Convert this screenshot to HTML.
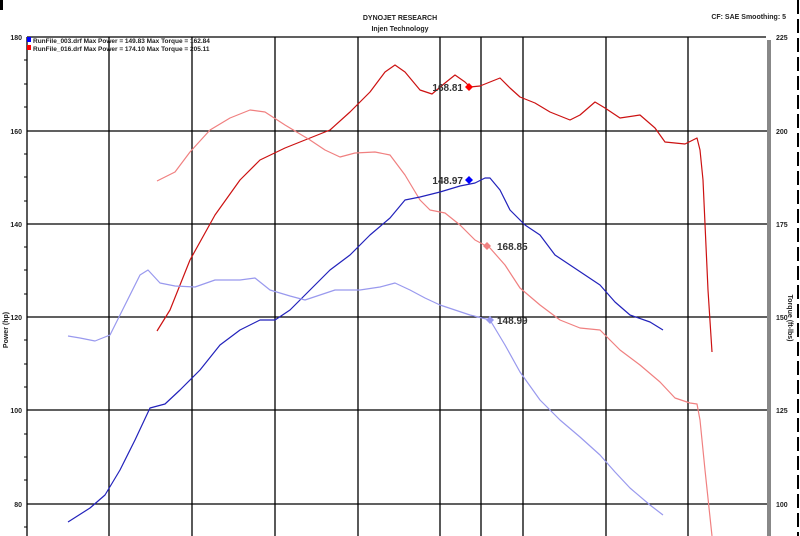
<!DOCTYPE html>
<html><head><style>
body{margin:0;background:#fff;}
svg{display:block;font-family:"Liberation Sans",sans-serif;}
</style></head><body>
<svg width="800" height="536" viewBox="0 0 800 536" xmlns="http://www.w3.org/2000/svg">
<rect x="0" y="0" width="800" height="536" fill="#fff"/>
<rect x="0" y="0" width="3" height="10" fill="#000"/>
<line x1="798" y1="0" x2="798" y2="536" stroke="#000" stroke-width="2" stroke-dasharray="14,5"/>
<text x="400" y="20" font-size="7" font-weight="bold" text-anchor="middle" fill="#222">DYNOJET RESEARCH</text>
<text x="400" y="31" font-size="7" font-weight="bold" text-anchor="middle" fill="#222">Injen Technology</text>
<text x="786" y="19" font-size="7" font-weight="bold" text-anchor="end" fill="#222">CF: SAE  Smoothing: 5</text>
<!-- grid -->
<g stroke="#000" stroke-width="1.3">
<line x1="27" y1="131" x2="769" y2="131"/>
<line x1="27" y1="224" x2="769" y2="224"/>
<line x1="27" y1="317" x2="769" y2="317"/>
<line x1="27" y1="410" x2="769" y2="410"/>
<line x1="27" y1="504" x2="769" y2="504"/>
<line x1="27" y1="37" x2="766" y2="37"/>
<line x1="109" y1="37" x2="109" y2="536"/>
<line x1="192" y1="37" x2="192" y2="536"/>
<line x1="275" y1="37" x2="275" y2="536"/>
<line x1="358" y1="37" x2="358" y2="536"/>
<line x1="440" y1="37" x2="440" y2="536"/>
<line x1="481" y1="37" x2="481" y2="536"/>
<line x1="523" y1="37" x2="523" y2="536"/>
<line x1="606" y1="37" x2="606" y2="536"/>
<line x1="688" y1="37" x2="688" y2="536"/>
<line x1="27" y1="37" x2="27" y2="536"/>
</g>
<rect x="767" y="40" width="4" height="496" fill="#888"/>
<g stroke="#000" stroke-width="1">
<line x1="24" y1="60" x2="27" y2="60"/><line x1="24" y1="84" x2="27" y2="84"/><line x1="24" y1="107" x2="27" y2="107"/>
<line x1="24" y1="154" x2="27" y2="154"/><line x1="24" y1="177" x2="27" y2="177"/><line x1="24" y1="201" x2="27" y2="201"/>
<line x1="24" y1="247" x2="27" y2="247"/><line x1="24" y1="270" x2="27" y2="270"/><line x1="24" y1="294" x2="27" y2="294"/>
<line x1="24" y1="340" x2="27" y2="340"/><line x1="24" y1="364" x2="27" y2="364"/><line x1="24" y1="387" x2="27" y2="387"/>
<line x1="24" y1="434" x2="27" y2="434"/><line x1="24" y1="457" x2="27" y2="457"/><line x1="24" y1="480" x2="27" y2="480"/>
<line x1="24" y1="527" x2="27" y2="527"/>
</g>
<g font-size="7" font-weight="bold" fill="#222">
<text x="22" y="40" text-anchor="end">180</text>
<text x="22" y="134" text-anchor="end">160</text>
<text x="22" y="227" text-anchor="end">140</text>
<text x="22" y="320" text-anchor="end">120</text>
<text x="22" y="413" text-anchor="end">100</text>
<text x="22" y="507" text-anchor="end">80</text>
<text x="776" y="40">225</text>
<text x="776" y="134">200</text>
<text x="776" y="227">175</text>
<text x="776" y="320">150</text>
<text x="776" y="413">125</text>
<text x="776" y="507">100</text>
<text transform="translate(8,330) rotate(-90)" text-anchor="middle">Power (hp)</text>
<text transform="translate(788,318) rotate(90)" text-anchor="middle">Torque (ft-lbs)</text>
</g>
<rect x="27" y="37" width="4" height="5" fill="#00f"/>
<rect x="27" y="45" width="4" height="5" fill="#f00"/>
<g font-size="6.5" font-weight="bold" fill="#222">
<text x="33" y="43">RunFile_003.drf Max Power = 149.83    Max Torque = 162.84</text>
<text x="33" y="51">RunFile_016.drf Max Power = 174.10    Max Torque = 205.11</text>
</g>
<g fill="none" stroke-width="1.2" stroke-linejoin="round">
<polyline stroke="#cc1111" points="157,331 170,310 190,260 215,215 240,180 260,160 285,148 310,138 330,130 350,112 370,92 385,72 395,65 405,72 420,90 432,94 445,83 455,75 465,82 470,87 480,86 490,82 500,78 510,88 520,97 535,103 550,112 570,120 580,115 595,102 605,108 620,118 640,115 655,128 665,142 685,144 697,138 700,150 703,180 708,290 712,352"/>
<polyline stroke="#f08080" points="157,181 175,172 190,152 210,130 230,118 250,110 265,112 285,125 310,140 325,150 340,157 355,153 375,152 390,155 405,175 420,200 430,210 445,213 460,225 475,240 490,248 505,265 520,288 540,305 560,320 580,328 600,330 620,350 640,365 660,382 675,398 690,403 697,404 700,420 705,470 712,536"/>
<polyline stroke="#2222bb" points="68,522 90,508 105,495 120,470 135,440 150,408 165,404 180,390 200,370 220,345 240,330 260,320 275,320 290,310 310,290 330,270 350,255 370,235 390,218 405,200 420,197 440,192 460,186 475,183 485,178 490,178 500,190 510,210 525,225 540,235 555,255 570,265 585,275 600,285 615,302 630,315 650,322 663,330"/>
<polyline stroke="#9999ee" points="68,336 80,338 95,341 110,335 125,305 140,275 148,270 160,283 175,286 195,287 215,280 240,280 255,278 270,290 290,296 305,300 320,295 335,290 360,290 380,287 395,283 410,290 425,298 440,305 455,310 470,315 490,320 505,345 520,372 540,400 560,420 580,437 600,455 615,472 630,488 650,505 663,515"/>
</g>
<polygon points="469,83 473,87 469,91 465,87" fill="#f00"/>
<polygon points="469,176 473,180 469,184 465,180" fill="#00f"/>
<polygon points="487,242 491,246 487,250 483,246" fill="#f08080"/>
<polygon points="490,316 494,320 490,324 486,320" fill="#9999ee"/>
<g font-size="10" font-weight="bold" fill="#333">
<text x="463" y="91" text-anchor="end">168.81</text>
<text x="463" y="184" text-anchor="end">148.97</text>
<text x="497" y="250">168.85</text>
<text x="497" y="324">148.99</text>
</g>
</svg>
</body></html>
